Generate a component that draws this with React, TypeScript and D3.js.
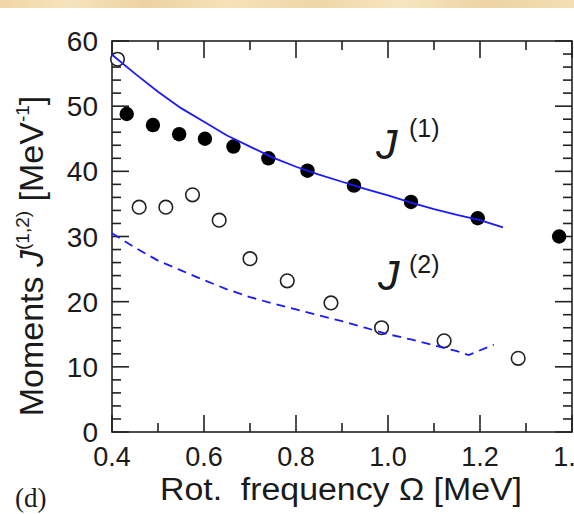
import React from "react";
import * as d3 from "d3";

const W = 574;
const H = 514;

// Experimental data (Rot. frequency Ω [MeV], moments [MeV^-1])
const J1_OMEGA = [0.432, 0.489, 0.546, 0.602, 0.664, 0.74, 0.825, 0.926, 1.05, 1.195, 1.372];
const J1_VALUES = [48.8, 47.1, 45.7, 45.0, 43.8, 42.0, 40.1, 37.8, 35.3, 32.8, 30.0];
const J2_OMEGA = [0.412, 0.459, 0.517, 0.575, 0.633, 0.7, 0.781, 0.876, 0.986, 1.122, 1.283];
const J2_VALUES = [57.2, 34.5, 34.5, 36.4, 32.5, 26.6, 23.2, 19.8, 16.0, 14.0, 11.3];

// Theory curves
const THEORY1_OMEGA = [0.4, 0.45, 0.5, 0.55, 0.6, 0.65, 0.7, 0.75, 0.8, 0.85, 0.9, 0.95, 1.0, 1.05, 1.1, 1.15, 1.2, 1.25];
const THEORY1_VALUES = [57.9, 55.0, 52.2, 49.7, 47.6, 45.5, 43.8, 42.1, 40.7, 39.5, 38.4, 37.3, 36.3, 35.2, 34.2, 33.3, 32.5, 31.4];
const THEORY2_OMEGA = [0.4, 0.45, 0.5, 0.55, 0.6, 0.65, 0.7, 0.75, 0.8, 0.85, 0.9, 0.95, 1.0, 1.05, 1.1, 1.15, 1.175, 1.23];
const THEORY2_VALUES = [30.5, 28.3, 26.3, 24.8, 23.3, 21.9, 20.7, 19.7, 18.8, 17.9, 17.0, 16.0, 15.0, 14.2, 13.3, 12.4, 11.8, 13.4];

const X_MAJOR = [0.4, 0.6, 0.8, 1.0, 1.2, 1.4];
const X_MINOR = [0.5, 0.7, 0.9, 1.1, 1.3];
const Y_MAJOR = [0, 10, 20, 30, 40, 50, 60];
const Y_MINOR = [2, 4, 6, 8, 12, 14, 16, 18, 22, 24, 26, 28, 32, 34, 36, 38, 42, 44, 46, 48, 52, 54, 56, 58];

const X_LABEL = "Rot.  frequency \u03A9 [MeV]";
const PANEL_LABEL = "(d)";

const LEFT = 112;
const RIGHT = 572;
const TOP = 41;
const BOTTOM = 432;

export default function App() {
  const x = d3.scaleLinear().domain([0.4, 1.4]).range([LEFT, RIGHT]);
  const y = d3.scaleLinear().domain([0, 60]).range([BOTTOM, TOP]);
  const axisColor = "#222";
  const textColor = "#1a1a1a";
  const sans = "'Liberation Sans', Arial, Helvetica, sans-serif";

  const line = d3
    .line<[number, number]>()
    .x((d) => x(d[0]))
    .y((d) => y(d[1]));
  const th1 = THEORY1_OMEGA.map((o, i) => [o, THEORY1_VALUES[i]] as [number, number]);
  const th2 = THEORY2_OMEGA.map((o, i) => [o, THEORY2_VALUES[i]] as [number, number]);

  const majLen = 17;
  const minLen = 9;

  return (
    <svg
      width={W}
      height={H}
      style={{ position: "absolute", left: 0, top: 0, background: "#fff" }}
      fontFamily={sans}
    >
      <defs>
        <linearGradient id="parch" x1="0" x2="1" y1="0" y2="0">
          <stop offset="0" stopColor="#efd6a6" />
          <stop offset="0.12" stopColor="#f6e4bd" />
          <stop offset="0.25" stopColor="#ecd3a2" />
          <stop offset="0.4" stopColor="#f5e2b8" />
          <stop offset="0.55" stopColor="#eed7a8" />
          <stop offset="0.7" stopColor="#f7e6c0" />
          <stop offset="0.85" stopColor="#ecd4a4" />
          <stop offset="1" stopColor="#f3dfb4" />
        </linearGradient>
      </defs>
      <rect x={0} y={0} width={W} height={H} fill="#fff" />
      <rect x={0} y={0} width={W} height={8} fill="url(#parch)" />

      {/* frame */}
      <rect
        x={LEFT}
        y={TOP}
        width={RIGHT - LEFT}
        height={BOTTOM - TOP}
        fill="none"
        stroke={axisColor}
        strokeWidth={1.6}
      />
      {/* x ticks */}
      {X_MAJOR.map((v) => (
        <g key={"xM" + v}>
          <line x1={x(v)} x2={x(v)} y1={BOTTOM} y2={BOTTOM - majLen} stroke={axisColor} strokeWidth={1.6} />
          <line x1={x(v)} x2={x(v)} y1={TOP} y2={TOP + majLen} stroke={axisColor} strokeWidth={1.6} />
          <text x={x(v)} y={466} fontSize={27} textAnchor="middle" fill={textColor}>
            {v.toFixed(1)}
          </text>
        </g>
      ))}
      {X_MINOR.map((v) => (
        <g key={"xm" + v}>
          <line x1={x(v)} x2={x(v)} y1={BOTTOM} y2={BOTTOM - minLen} stroke={axisColor} strokeWidth={1.6} />
          <line x1={x(v)} x2={x(v)} y1={TOP} y2={TOP + minLen} stroke={axisColor} strokeWidth={1.6} />
        </g>
      ))}
      {/* y ticks */}
      {Y_MAJOR.map((v) => (
        <g key={"yM" + v}>
          <line x1={LEFT} x2={LEFT + majLen} y1={y(v)} y2={y(v)} stroke={axisColor} strokeWidth={1.6} />
          <line x1={RIGHT} x2={RIGHT - majLen} y1={y(v)} y2={y(v)} stroke={axisColor} strokeWidth={1.6} />
          <text x={98} y={y(v)} dy="0.36em" fontSize={28} textAnchor="end" fill={textColor}>
            {v}
          </text>
        </g>
      ))}
      {Y_MINOR.map((v) => (
        <g key={"ym" + v}>
          <line x1={LEFT} x2={LEFT + minLen} y1={y(v)} y2={y(v)} stroke={axisColor} strokeWidth={1.6} />
          <line x1={RIGHT} x2={RIGHT - minLen} y1={y(v)} y2={y(v)} stroke={axisColor} strokeWidth={1.6} />
        </g>
      ))}

      {/* data points */}
      {J2_OMEGA.map((o, i) => (
        <circle key={"o" + i} cx={x(o)} cy={y(J2_VALUES[i])} r={6.8} fill="#fff" stroke="#222" strokeWidth={1.6} />
      ))}
      {J1_OMEGA.map((o, i) => (
        <circle key={"f" + i} cx={x(o)} cy={y(J1_VALUES[i])} r={7.2} fill="#000" />
      ))}

      {/* theory lines */}
      <path d={line(th1) || ""} fill="none" stroke="#1a1aff" strokeWidth={1.8} />
      <path d={line(th2) || ""} fill="none" stroke="#1a1aff" strokeWidth={1.8} strokeDasharray="9 6" />

      {/* curve labels */}
      <text x={376} y={159} fontSize={43} fontStyle="italic" fill={textColor}>J</text>
      <text x={409} y={137} fontSize={25} fill={textColor}>(1)</text>
      <text x={378} y={290} fontSize={43} fontStyle="italic" fill={textColor}>J</text>
      <text x={409} y={273} fontSize={25} fill={textColor}>(2)</text>

      {/* axis titles */}
      <text
        x={160}
        y={500}
        fontSize={31}
        textLength={362}
        lengthAdjust="spacingAndGlyphs"
        fill={textColor}
        xmlSpace="preserve"
      >
        {X_LABEL}
      </text>
      <text
        transform={`translate(43, 256) rotate(-90)`}
        fontSize={34}
        textAnchor="middle"
        fill={textColor}
      >
        <tspan>Moments </tspan>
        <tspan fontStyle="italic">J</tspan>
        <tspan fontSize={19} dy={-14}>(1,2)</tspan>
        <tspan dy={14}> [MeV</tspan>
        <tspan fontSize={19} dy={-14}>-1</tspan>
        <tspan dy={14}>]</tspan>
      </text>

      <text x={15} y={507} fontSize={27} fontFamily="'Liberation Serif', 'Times New Roman', serif" fill={textColor}>
        {PANEL_LABEL}
      </text>
    </svg>
  );
}
